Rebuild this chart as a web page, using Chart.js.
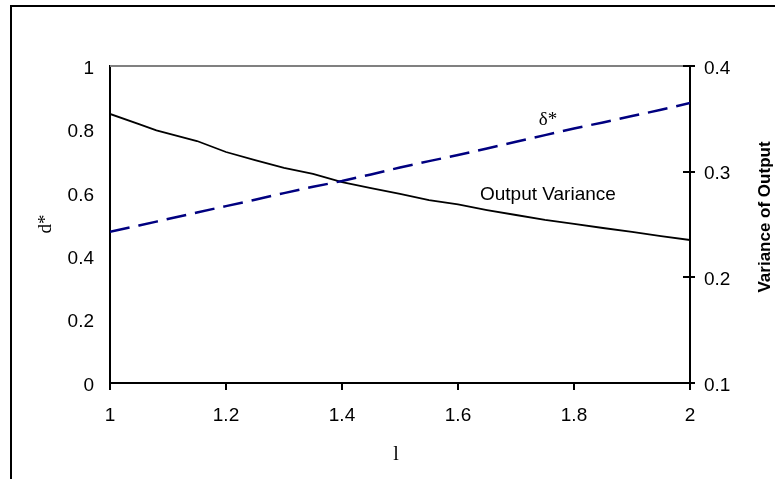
<!DOCTYPE html>
<html><head><meta charset="utf-8">
<style>html,body{margin:0;padding:0;background:#fff;}#wrap{width:775px;height:479px;}</style>
<script src="https://cdn.jsdelivr.net/npm/chart.js@4/dist/chart.umd.min.js"></script>
</head><body><div id="wrap"><canvas id="c" width="775" height="479"></canvas></div>
<script>
const lambdaValues = [1.00,1.05,1.08,1.15,1.20,1.25,1.30,1.35,1.40,1.45,1.50,1.55,1.60,1.65,1.70,1.75,1.80,1.85,1.90,1.95,2.00];
const deltaStar    = [0.477,0.497,0.509,0.538,0.558,0.578,0.599,0.619,0.637,0.658,0.680,0.700,0.719,0.740,0.761,0.782,0.803,0.822,0.842,0.862,0.883];
const outputVariance = [0.3546,0.345,0.339,0.329,0.3186,0.311,0.3035,0.298,0.290,0.2845,0.279,0.273,0.269,0.2637,0.259,0.2543,0.2505,0.2467,0.243,0.2391,0.2353];
const xTicks = [1,1.2,1.4,1.6,1.8,2];
const leftTicks = [0,0.2,0.4,0.6,0.8,1];
const rightTicks = [0.1,0.2,0.3,0.4];

const sans = "'Liberation Sans', Arial, sans-serif";
const serif = "'Liberation Serif', 'Times New Roman', serif";

function fmt(v){ return String(+v.toFixed(2)); }
function setTicks(arr){ return s => { s.ticks = arr.map(v => ({value: v})); }; }

const decor = {
  id: 'decor',
  beforeDatasetsDraw(chart){
    const {ctx, chartArea: a} = chart;
    ctx.save();
    ctx.strokeStyle = '#808080';
    ctx.lineWidth = 2;
    ctx.beginPath();
    ctx.moveTo(a.left, a.top);
    ctx.lineTo(a.right, a.top);
    ctx.stroke();
    ctx.restore();
  },
  afterDraw(chart){
    const {ctx, chartArea: a, scales} = chart;
    ctx.save();
    ctx.strokeStyle = '#000';
    ctx.lineWidth = 2;
    ctx.strokeRect(11, 6, 900, 700);
    ctx.beginPath();
    rightTicks.forEach(v => {
      const y = Math.round(scales.y2.getPixelForValue(v));
      ctx.moveTo(a.right - 7, y);
      ctx.lineTo(a.right, y);
    });
    ctx.stroke();
    ctx.fillStyle = '#000';
    ctx.textAlign = 'center';
    ctx.textBaseline = 'middle';
    ctx.font = "19px " + sans;
    ctx.fillText('Output Variance', scales.x.getPixelForValue(1.755), scales.y.getPixelForValue(0.593));
    ctx.font = "19px " + serif;
    ctx.fillText('δ*', scales.x.getPixelForValue(1.755), scales.y.getPixelForValue(0.830));
    ctx.font = "20px " + serif;
    ctx.fillText('l', 396, 455);
    ctx.save();
    ctx.translate(46, 224);
    ctx.rotate(-Math.PI/2);
    ctx.font = "19px " + serif;
    ctx.fillText('d*', 0, 0);
    ctx.restore();
    ctx.save();
    ctx.translate(765, 217);
    ctx.rotate(-Math.PI/2);
    ctx.font = "bold 17px " + sans;
    ctx.fillText('Variance of Output', 0, 0);
    ctx.restore();
    ctx.restore();
  }
};

new Chart(document.getElementById('c'), {
  type: 'line',
  data: {
    datasets: [
      {
        label: 'δ*',
        data: lambdaValues.map((x, i) => ({x, y: deltaStar[i]})),
        yAxisID: 'y',
        borderColor: '#000080',
        borderWidth: 2.5,
        borderDash: [20, 9],
        pointRadius: 0,
        fill: false,
        tension: 0
      },
      {
        label: 'Output Variance',
        data: lambdaValues.map((x, i) => ({x, y: outputVariance[i]})),
        yAxisID: 'y2',
        borderColor: '#000',
        borderWidth: 1.8,
        pointRadius: 0,
        fill: false,
        tension: 0
      }
    ]
  },
  options: {
    responsive: false,
    devicePixelRatio: 1,
    animation: false,
    layout: {padding: {top: 66, left: 0, right: 0, bottom: 0}},
    plugins: {legend: {display: false}, tooltip: {enabled: false}},
    scales: {
      x: {
        type: 'linear', position: 'bottom', min: 1, max: 2,
        afterBuildTicks: setTicks(xTicks),
        afterFit: s => { s.height = 96; },
        ticks: {font: {family: sans, size: 19}, color: '#000', padding: 14, maxRotation: 0, callback: fmt},
        grid: {display: true, drawOnChartArea: false, drawTicks: true, tickLength: 7, color: '#000', lineWidth: 2},
        border: {display: true, color: '#000', width: 2}
      },
      y: {
        type: 'linear', position: 'left', min: 0, max: 1,
        afterBuildTicks: setTicks(leftTicks),
        afterFit: s => { s.width = 110; },
        ticks: {font: {family: sans, size: 19}, color: '#000', padding: 16, labelOffset: 2.5, callback: fmt},
        grid: {display: false, drawTicks: false},
        border: {display: true, color: '#000', width: 2}
      },
      y2: {
        type: 'linear', position: 'right', min: 0.1, max: 0.4,
        afterBuildTicks: setTicks(rightTicks),
        afterFit: s => { s.width = 85; },
        ticks: {font: {family: sans, size: 19}, color: '#000', padding: 9, labelOffset: 2.5, callback: fmt},
        grid: {display: true, drawOnChartArea: false, drawTicks: true, tickLength: 5, color: '#000', lineWidth: 2},
        border: {display: true, color: '#000', width: 2}
      }
    }
  },
  plugins: [decor]
});
</script>
</body></html>
